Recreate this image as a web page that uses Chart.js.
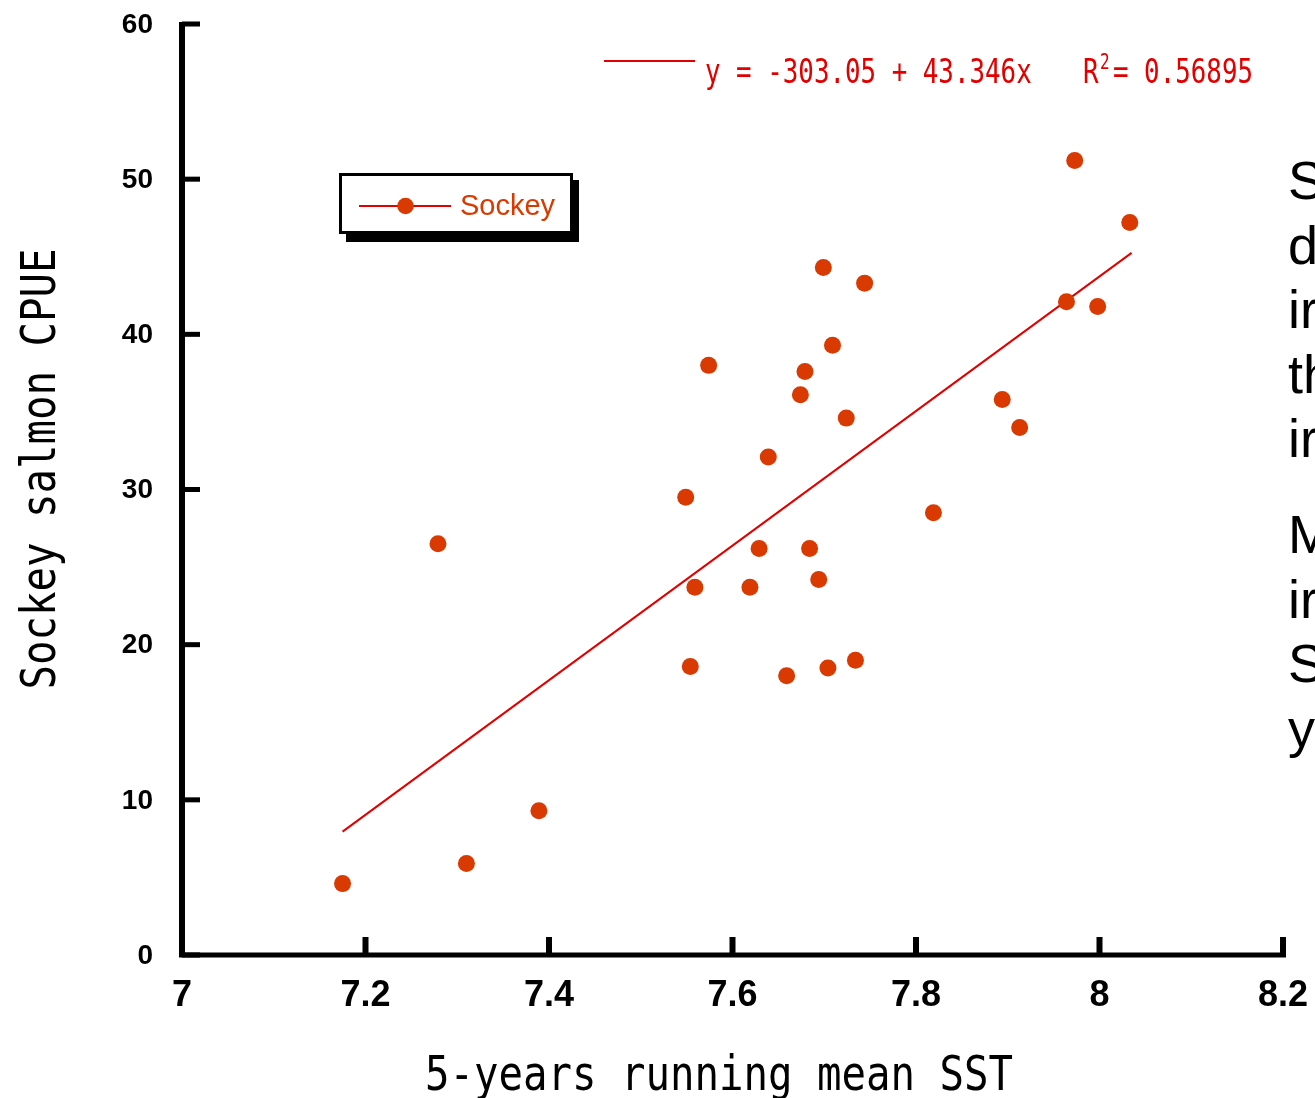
<!DOCTYPE html>
<html>
<head>
<meta charset="utf-8">
<title>Sockey salmon CPUE vs SST</title>
<script src="https://cdn.jsdelivr.net/npm/chart.js@4.4.1/dist/chart.umd.min.js"></script>
<style>
    html, body { margin: 0; padding: 0; background: #fff; overflow: hidden; }
    #wrap { position: relative; width: 1315px; height: 1098px; overflow: hidden; }
    #chart { position: absolute; left: 0; top: 0; }
    .side { position: absolute; left: 1288px; font-family: "Liberation Sans", Arial, sans-serif; font-size: 54px; line-height: 64.5px; color: #000; white-space: nowrap; }
</style>
</head>
<body>
<div id="wrap">
    <canvas id="chart" width="1315" height="1098"></canvas>
    <!-- slide text cut off by the right edge -->
    <div class="side" style="top:148px">S<br>d<br>ir<br>th<br>ir</div>
    <div class="side" style="top:502px">M<br>ir<br>S<br>y</div>
</div>
<script>
"use strict";

// data
const sstValues = [7.175, 7.279, 7.310, 7.389, 7.549, 7.554, 7.559, 7.574, 7.619, 7.629, 7.639, 7.659,
    7.674, 7.679, 7.684, 7.694, 7.699, 7.704, 7.709, 7.724, 7.734, 7.744, 7.819, 7.894, 7.913, 7.964,
    7.973, 7.998, 8.033];
const cpueValues = [4.6, 26.5, 5.9, 9.3, 29.5, 18.6, 23.7, 38.0, 23.7, 26.2, 32.1, 18.0,
    36.1, 37.6, 26.2, 24.2, 44.3, 18.5, 39.3, 34.6, 19.0, 43.3, 28.5, 35.8, 34.0, 42.1,
    51.2, 41.8, 47.2];

// regression line ends
const trendSst = [7.175, 8.035];
const trendCpue = [7.95, 45.25];

// ticks
const xTicks = [7, 7.2, 7.4, 7.6, 7.8, 8, 8.2];
const yTicks = [0, 10, 20, 30, 40, 50, 60];

const seriesLabel = "Sockey";
const eqText = "y = -303.05 + 43.346x";
const r2Text = "= 0.56895";

const xTitle = "5-years running mean SST";
const yTitle = "Sockey salmon CPUE";

const dotColor = "#d83a02";
const lineColor = "#e00000";

// 좁은 글꼴 흉내 (가로 압축)
function drawNarrow(ctx, sText, x, y, sFont, fScale, sAlign) {
    ctx.save();
    ctx.translate(x, y);
    ctx.scale(fScale, 1);
    ctx.font = sFont;
    ctx.textAlign = sAlign;
    ctx.textBaseline = "alphabetic";
    ctx.fillText(sText, 0, 0);
    ctx.restore();
}

const decorPlugin = {
    id: "decor",
    afterDraw: function (chart) {
        const ctx = chart.ctx;
        const xs = chart.scales.x;
        const ys = chart.scales.y;
        const x0 = xs.getPixelForValue(xTicks[0]);
        const x1 = xs.getPixelForValue(xTicks[xTicks.length - 1]);
        const y0 = ys.getPixelForValue(yTicks[0]);
        const y1 = ys.getPixelForValue(yTicks[yTicks.length - 1]);

        ctx.save();
        ctx.fillStyle = "#000";
        ctx.strokeStyle = "#000";

        // axes
        ctx.fillRect(x0 - 3, y1 - 2, 6, y0 - y1 + 4);
        ctx.fillRect(x0 - 3, y0 - 2.5, x1 - x0 + 6, 5);

        // inward ticks
        yTicks.forEach(function (v) {
            const py = ys.getPixelForValue(v);
            ctx.fillRect(x0, py - 2.5, 18, 5);
        });
        xTicks.forEach(function (v) {
            const px = xs.getPixelForValue(v);
            ctx.fillRect(px - 3, y0 - 18, 6, 18);
        });

        // tick labels
        ctx.font = 'bold 28px "Liberation Sans", Arial, sans-serif';
        ctx.textAlign = "right";
        ctx.textBaseline = "middle";
        yTicks.forEach(function (v) {
            ctx.fillText(String(v), 153, ys.getPixelForValue(v) + 1);
        });
        ctx.font = 'bold 36px "Liberation Sans", Arial, sans-serif';
        ctx.textAlign = "center";
        ctx.textBaseline = "alphabetic";
        xTicks.forEach(function (v) {
            ctx.fillText(String(v), xs.getPixelForValue(v), 1006);
        });

        // axis titles
        const sTitleFont = '48px "DejaVu Sans Mono", monospace';
        drawNarrow(ctx, xTitle, 719, 1090, sTitleFont, 0.848, "center");
        ctx.save();
        ctx.translate(55, 469);
        ctx.rotate(-Math.PI / 2);
        drawNarrow(ctx, yTitle, 0, 0, sTitleFont, 0.848, "center");
        ctx.restore();

        // regression equation
        ctx.strokeStyle = lineColor;
        ctx.lineWidth = 2;
        ctx.beginPath();
        ctx.moveTo(604, 61);
        ctx.lineTo(695, 61);
        ctx.stroke();
        ctx.fillStyle = lineColor;
        const sEqFont = '34px "DejaVu Sans Mono", monospace';
        drawNarrow(ctx, eqText, 705, 83, sEqFont, 0.76, "left");
        drawNarrow(ctx, "R", 1083, 83, sEqFont, 0.76, "left");
        drawNarrow(ctx, "2", 1100, 69, '21px "DejaVu Sans Mono", monospace', 0.76, "left");
        drawNarrow(ctx, r2Text, 1113, 83, sEqFont, 0.76, "left");

        // legend box with shadow
        ctx.fillStyle = "#000";
        ctx.fillRect(346, 180, 233, 62);
        ctx.fillStyle = "#fff";
        ctx.fillRect(340, 174, 232, 59);
        ctx.strokeStyle = "#000";
        ctx.lineWidth = 3;
        ctx.strokeRect(340.5, 174.5, 231, 58);

        ctx.strokeStyle = lineColor;
        ctx.lineWidth = 2;
        ctx.beginPath();
        ctx.moveTo(359, 206);
        ctx.lineTo(451, 206);
        ctx.stroke();
        ctx.fillStyle = dotColor;
        ctx.beginPath();
        ctx.arc(405.5, 206, 8.3, 0, Math.PI * 2);
        ctx.fill();
        ctx.font = '29px "Liberation Sans", Arial, sans-serif';
        ctx.textAlign = "left";
        ctx.fillText(chart.data.datasets[0].label, 460, 215);

        ctx.restore();
    }
};

const ctx = document.getElementById("chart").getContext("2d");

new Chart(ctx, {
    type: "scatter",
    plugins: [decorPlugin],
    data: {
        datasets: [
            {
                label: seriesLabel,
                data: sstValues.map(function (x, i) { return { x: x, y: cpueValues[i] }; }),
                backgroundColor: dotColor,
                borderWidth: 0,
                pointRadius: 8.5,
                clip: false
            },
            {
                label: "trend",
                type: "line",
                data: trendSst.map(function (x, i) { return { x: x, y: trendCpue[i] }; }),
                borderColor: lineColor,
                borderWidth: 2,
                pointRadius: 0,
                fill: false,
                tension: 0
            }
        ]
    },
    options: {
        responsive: false,
        animation: false,
        layout: {
            padding: { left: 182, right: 32, top: 24, bottom: 143 }
        },
        plugins: {
            legend: { display: false },
            tooltip: { enabled: false }
        },
        scales: {
            x: { type: "linear", min: 7, max: 8.2, display: false },
            y: { type: "linear", min: 0, max: 60, display: false }
        }
    }
});
</script>
</body>
</html>
